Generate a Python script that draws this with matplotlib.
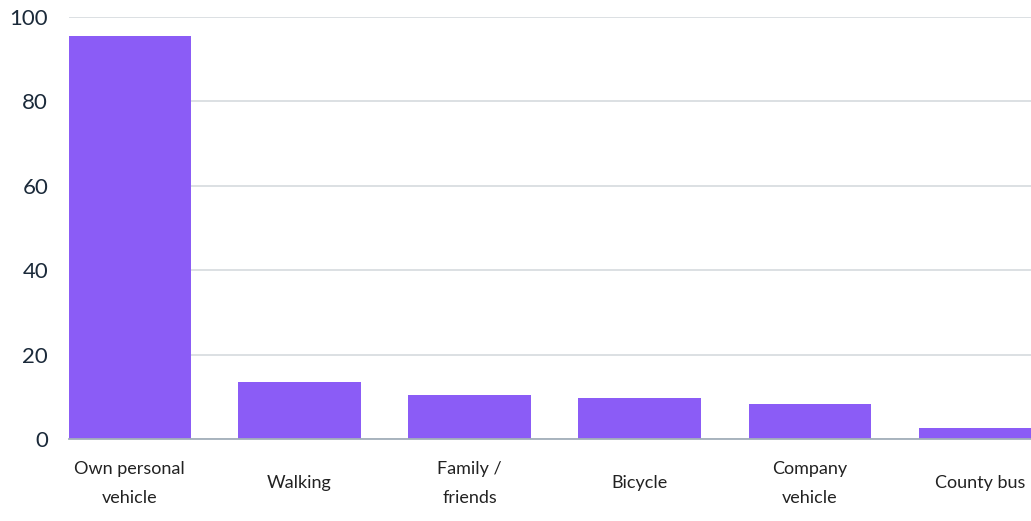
import matplotlib.pyplot as plt

# Données
categories = ["Own personal\nvehicle", "Walking", "Family /\nfriends",
              "Bicycle", "Company\nvehicle", "County bus"]
valeurs = [95.5, 13.6, 10.4, 9.8, 8.4, 2.7]
yticks = [0, 20, 40, 60, 80, 100]

plt.rcParams['font.family'] = ['Lato', 'DejaVu Sans']

fig = plt.figure(figsize=(10.31, 5.21), dpi=100)
ax = fig.add_axes([69 / 1031, 82 / 521, 1 - 69 / 1031, 422 / 521])

x = range(len(categories))
ax.bar(x, valeurs, width=0.72, color='#8b5cf6', zorder=3)

ax.set_xlim(-0.355, 5.30)
ax.set_ylim(0, 100)
ax.set_yticks(yticks)
ax.set_xticks(list(x))
ax.set_xticklabels(categories, fontsize=13, color='#222222', linespacing=2.0)
for lab in ax.get_xticklabels():
    lab.set_va('center')

ax.tick_params(axis='x', length=0, pad=32)
ax.tick_params(axis='y', length=0, pad=15, labelsize=16, labelcolor='#1b2a3a')

ax.grid(axis='y', color='#d9dde1', linewidth=1.3, zorder=0)
for side in ['top', 'right', 'left']:
    ax.spines[side].set_visible(False)
ax.spines['bottom'].set_color('#a3afba')
ax.spines['bottom'].set_linewidth(1.3)
ax.spines['bottom'].set_zorder(4)

fig.savefig('out.png', dpi=100)
